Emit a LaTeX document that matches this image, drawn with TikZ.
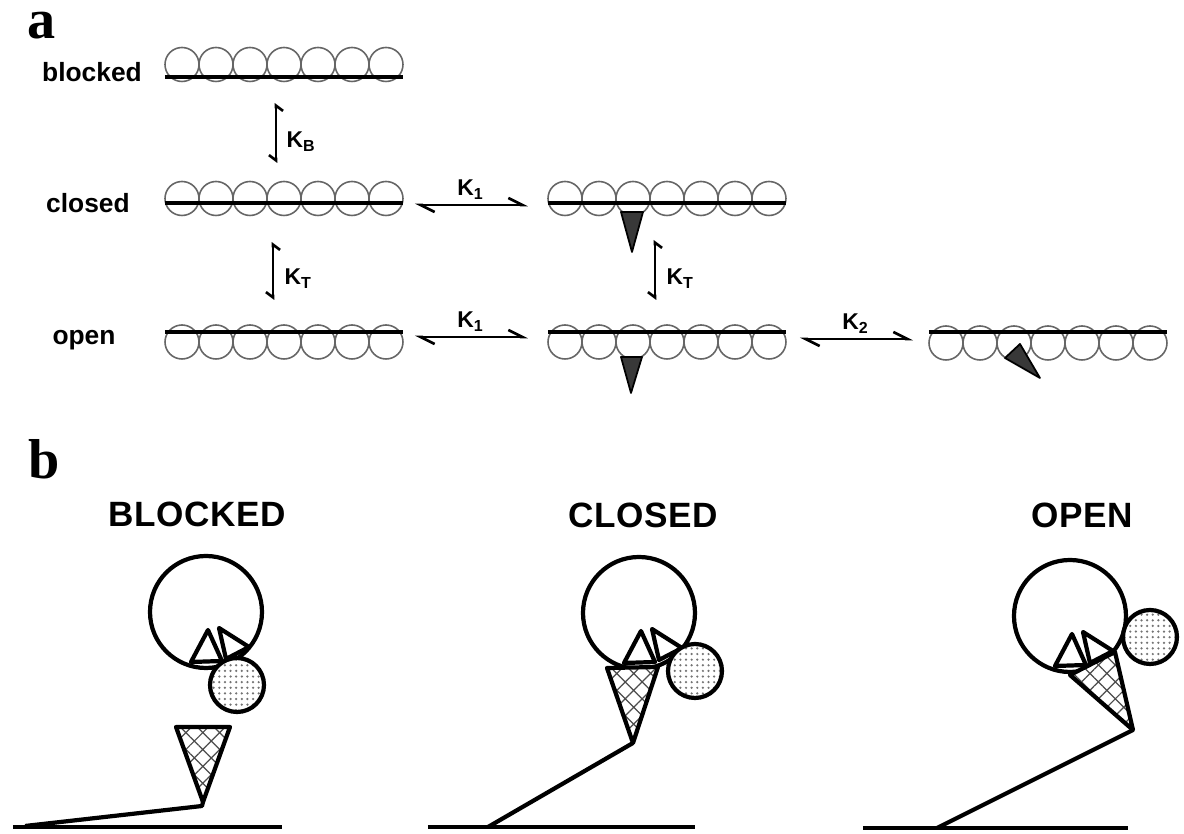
\documentclass[tikz,border=0pt]{standalone}
\usepackage{fontspec}
\setmainfont{Liberation Serif}
\setsansfont{Liberation Sans}
\newfontfamily\capsfont[LetterSpace=2]{Liberation Sans}
\usetikzlibrary{arrows.meta, patterns.meta}
\tikzset{
    actin/.style={draw=black!60, line width=0.45pt},
    strand/.style={line width=1pt},
    myosin/.style={draw, fill=black!78, line width=0.5pt, line join=round},
    equil/.style={line width=0.75pt,
        {Straight Barb[left, length=4pt, width=4pt]}-{Straight Barb[left, length=4pt, width=4pt]}},
    equilv/.style={line width=0.75pt,
        {Straight Barb[right, length=1.5pt, width=4pt]}-{Straight Barb[right, length=1.5pt, width=4pt]}},
    panel/.style={font=\bfseries\fontsize{16}{18}\selectfont, inner sep=0pt},
    statelbl/.style={font=\sffamily\bfseries\fontsize{7.5}{9}\selectfont, inner sep=0pt},
    rate/.style={font=\sffamily\bfseries\fontsize{6.5}{8}\selectfont, inner sep=0pt},
    statetitle/.style={font=\capsfont\bfseries\fontsize{10}{12}\selectfont, inner sep=0pt},
    bold line/.style={draw, line width=1.2pt, line join=round},
    head/.style={bold line, fill=white},
    ball/.style={bold line, preaction={fill=white},
        pattern={Dots[radius=0.35pt, distance=1.6pt]}, pattern color=black!55},
    cone/.style={bold line, preaction={fill=white},
        pattern={Hatch[angle=45, distance=3.4pt, line width=0.35pt]}, pattern color=black!70}
}

\begin{document}
\begin{tikzpicture}[x=0.1mm, y=-0.1mm]
    \useasboundingbox (0,0) rectangle (1184,834);

    % ---- a: thin filament states ----
    \node[panel, anchor=base west] (pa) at (27,39) {a};
    % actin beads with the tropomyosin strand on top
    \foreach \fx/\cy/\ly in {165/64.5/77, 165/198.5/203, 548/198.5/203,
                             165/342/332, 548/342/332, 929/343/332} {
        \foreach \i in {0,...,6}
            \draw[actin] ({\fx+17+34*\i},\cy) circle (17);
        \draw[strand] (\fx,\ly) -- ++(238,0);
    }
    % bound myosin heads
    \draw[myosin] (621,212) -- (643,212) -- (632,252) -- cycle;
    \draw[myosin] (621,357) -- (642,357) -- (631,393) -- cycle;
    \draw[myosin] (1005,358) -- (1020,344) -- (1040,378) -- cycle;

    \node[statelbl, anchor=base] (s-blocked) at (92,82) {blocked};
    \node[statelbl, anchor=base] (s-closed) at (88,213) {closed};
    \node[statelbl, anchor=base] (s-open) at (84,345) {open};

    % equilibria
    \coordinate (kb-in) at (276,103);  \coordinate (kb-out) at (276,163);
    \coordinate (kt-in) at (273,242);  \coordinate (kt-out) at (273,300);
    \coordinate (kt2-in) at (655,240); \coordinate (kt2-out) at (655,300);
    \coordinate (k1-in) at (415,205);  \coordinate (k1-out) at (528,205);
    \coordinate (k12-in) at (415,337); \coordinate (k12-out) at (528,337);
    \coordinate (k2-in) at (800,339);  \coordinate (k2-out) at (913,339);
    \draw[equilv] (kb-in) -- (kb-out);
    \draw[equilv] (kt-in) -- (kt-out);
    \draw[equilv] (kt2-in) -- (kt2-out);
    \draw[equil] (k1-in) -- (k1-out);
    \draw[equil] (k12-in) -- (k12-out);
    \draw[equil] (k2-in) -- (k2-out);
    \node[rate, anchor=base west] (kb) at (286,148) {K\textsubscript{B}};
    \node[rate, anchor=base west] (kt) at (284,285) {K\textsubscript{T}};
    \node[rate, anchor=base west] (kt2) at (666,285) {K\textsubscript{T}};
    \node[rate, anchor=base] (k1) at (471,196) {K\textsubscript{1}};
    \node[rate, anchor=base] (k12) at (471,328) {K\textsubscript{1}};
    \node[rate, anchor=base] (k2) at (856,330) {K\textsubscript{2}};

    % ---- b: myosin head on the lever ----
    \node[panel, anchor=base west] (pb) at (28,479) {b};
    \node[statetitle, anchor=base] (t-blocked) at (197,527) {BLOCKED};
    \node[statetitle, anchor=base] (t-closed) at (643,528) {CLOSED};
    \node[statetitle, anchor=base] (t-open) at (1082,528) {OPEN};

    % ground and lever arm
    \draw[bold line] (13,827) -- (282,827);
    \draw[bold line] (428,827) -- (695,827);
    \draw[bold line] (863,828) -- (1128,828);
    \draw[bold line] (203,802) -- (202,806) -- (25,826);
    \draw[bold line] (633,743) -- (488,827);
    \draw[bold line] (1133,730) -- (937,828);

    % actin and its two inner subdomains
    \foreach \hx/\hy in {206/612, 639/613, 1070/616} {
        \draw[head] (\hx,\hy) circle (56);
        \draw[head] ({\hx-15},{\hy+50}) -- ({\hx+2},{\hy+18}) -- ({\hx+16},{\hy+49}) -- cycle;
        \draw[head] ({\hx+13},{\hy+16}) -- ({\hx+43},{\hy+35}) -- ({\hx+20},{\hy+47}) -- cycle;
    }
    % cross-hatched cones
    \draw[cone] (176,727) -- (230,727) -- (203,802) -- cycle;
    \draw[cone] (607,668) -- (658,667) -- (633,743) -- cycle;
    \draw[cone] (1070,675) -- (1115,652) -- (1133,730) -- cycle;
    % stippled balls
    \draw[ball] (237,685) circle (27);
    \draw[ball] (695,671) circle (27);
    \draw[ball] (1150,637) circle (27);
\end{tikzpicture}
\end{document}
